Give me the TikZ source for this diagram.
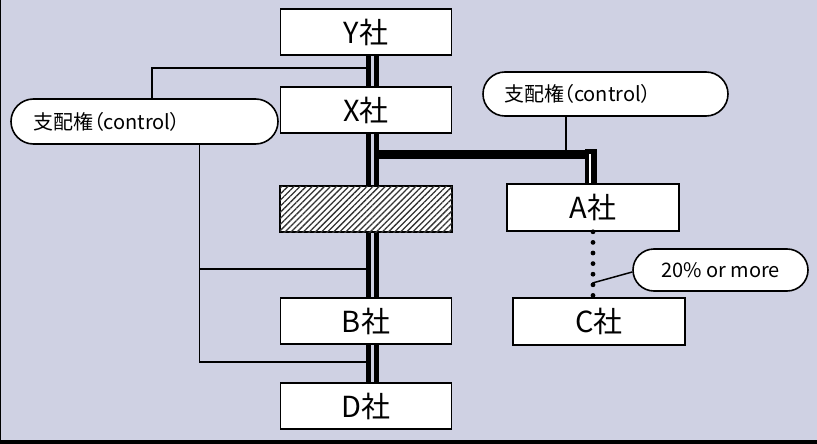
\documentclass[tikz,border=0pt]{standalone}
\usepackage{fontspec}
\setmainfont{Noto Sans CJK JP}
\usetikzlibrary{patterns.meta}
\definecolor{bgc}{RGB}{207,209,227}
\begin{document}
\begin{tikzpicture}[x=1pt,y=-1pt,
  cobox/.style={draw=black,line width=1.6pt,fill=white,minimum width=171pt,minimum height=46pt,inner sep=0pt,font=\fontsize{29}{31}\selectfont},
  ctl/.style={draw=black,line width=1.6pt,fill=white,inner ysep=0pt,align=left,font=\fontsize{20}{22}\selectfont\addfontfeature{RawFeature=+palt}},
  thinln/.style={line width=1.5pt},
  dblln/.style={line width=4.5pt},
  dotln/.style={line width=4.8pt,line cap=round,dash pattern=on 0pt off 10.6pt}]
\fill[bgc] (0,0) rectangle (817,444);
\useasboundingbox (0,0) rectangle (817,444);
\fill[black] (0,0) rectangle (1.4,444);
\fill[black] (0,440.4) rectangle (817,444);

% company boxes
\node[cobox] (Y) at (366,32) {Y社};
\node[cobox] (X) at (366,110) {X社};
\node[cobox,minimum width=172pt,fill=white,postaction={pattern={Lines[angle=45,distance=4.3pt,line width=1.3pt]},pattern color=black!80}] (H) at (366,209) {};
\node[cobox] (B) at (366,321) {B社};
\node[cobox] (D) at (366,406) {D社};
\node[cobox,minimum width=172pt,minimum height=47pt] (A) at (593,207.5) {A社};
\node[cobox,minimum width=172pt,minimum height=47pt] (C) at (599,321.5) {C社};

% control labels
\node[ctl,rounded corners=22.5pt,minimum height=45pt,text width=222pt,inner xsep=22.5pt] (Lctl) at (144.5,121.5) {支配権（control）};
\node[ctl,rounded corners=22pt,minimum height=44pt,text width=203pt,inner xsep=21pt] (Rctl) at (605.5,94) {支配権（control）};
\node[ctl,rounded corners=21pt,minimum height=42pt,minimum width=175pt,align=center] (P) at (720.5,270) {20\% or more};

% double vertical lines
\foreach \s in {2.5,10.5}{
  \draw[dblln] ([xshift=\s pt]Y.south) -- ([xshift=\s pt]X.north);
  \draw[dblln] ([xshift=\s pt]X.south) -- ([xshift=\s pt]H.north);
  \draw[dblln] ([xshift=\s pt]H.south) -- ([xshift=\s pt]B.north);
  \draw[dblln] ([xshift=\s pt]B.south) -- ([xshift=\s pt]D.north);
}

% thick line to A
\coordinate (h1) at (377,154.5);
\draw[line width=9pt] (h1) -- ([xshift=4pt]A.north |- h1);
\draw[line width=12pt] ([xshift=-2pt]A.north) -- ++(0,-34);
\draw[white,line width=2pt] ([xshift=-3.5pt]A.north) -- ++(0,-29);

% left control brackets
\coordinate (t1) at (366,68);
\coordinate (b1) at (366,269);
\coordinate (b2) at (366,362);
\draw[thinln] ([xshift=7.5pt]Lctl.north) |- (t1);
\path ([xshift=55pt]Lctl.south) coordinate (lc);
\draw[thinln] (lc) |- (b2);
\draw[thinln] (b1 -| lc) -- (b1);

% right control
\draw[thinln] ([xshift=-39.5pt]Rctl.south) -- ([xshift=-39.5pt]Rctl.south |- h1);

% dotted A to C
\draw[dotln] (A.south) -- (A.south |- C.north);
\coordinate (pd) at (592.5,283);
\draw[thinln] (pd) -- ([yshift=-2pt]P.west);
\end{tikzpicture}
\end{document}
